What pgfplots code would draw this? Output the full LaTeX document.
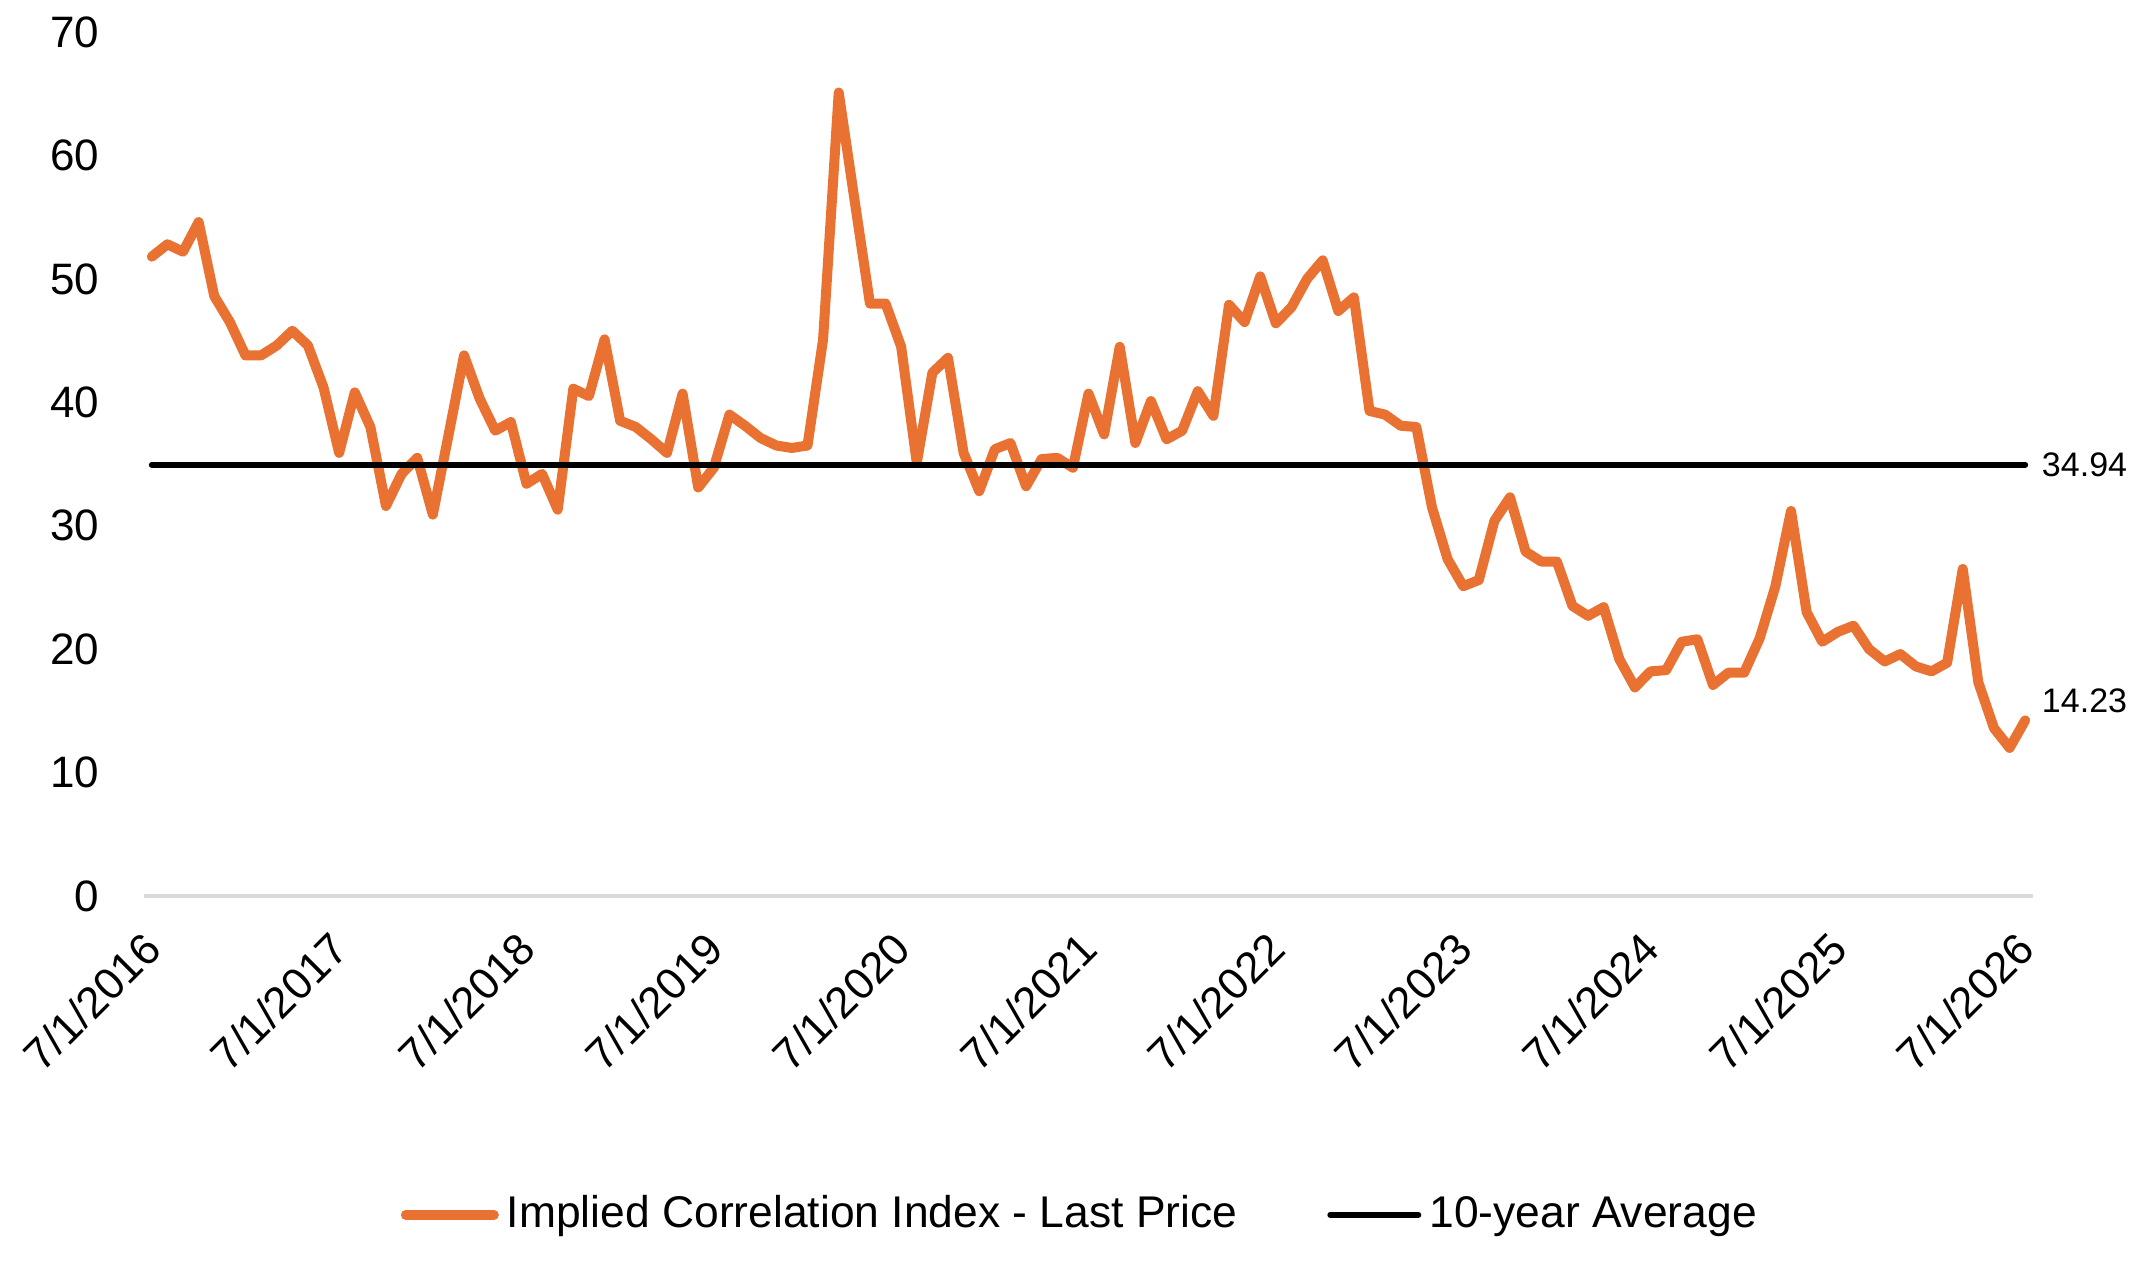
\documentclass[border=0pt]{standalone}
\usepackage{fontspec}
\setmainfont{Liberation Sans}
\usepackage{pgfplots}
\pgfplotsset{compat=1.18}
\usepackage{pgfplotstable}
\definecolor{corrorange}{HTML}{E97132}
\definecolor{axisgray}{HTML}{D9D9D9}

\pgfplotstableread{
idx val
0 51.8
1 52.8
2 52.2
3 54.6
4 48.6
5 46.5
6 43.8
7 43.8
8 44.6
9 45.8
10 44.6
11 41.2
12 35.9
13 40.8
14 38.0
15 31.6
16 34.2
17 35.5
18 30.9
19 37.3
20 43.8
21 40.3
22 37.7
23 38.4
24 33.4
25 34.2
26 31.3
27 41.1
28 40.5
29 45.1
30 38.5
31 38.0
32 37.0
33 35.9
34 40.7
35 33.1
36 34.7
37 39.0
38 38.1
39 37.1
40 36.5
41 36.3
42 36.5
43 45.1
44 65.1
45 56.5
46 48.0
47 48.0
48 44.5
49 35.1
50 42.4
51 43.6
52 35.9
53 32.8
54 36.2
55 36.7
56 33.2
57 35.4
58 35.5
59 34.7
60 40.7
61 37.4
62 44.5
63 36.7
64 40.1
65 37.0
66 37.7
67 40.9
68 38.9
69 47.9
70 46.5
71 50.2
72 46.4
73 47.7
74 50.0
75 51.5
76 47.4
77 48.5
78 39.3
79 39.0
80 38.1
81 38.0
82 31.5
83 27.3
84 25.1
85 25.6
86 30.4
87 32.3
88 27.9
89 27.1
90 27.1
91 23.5
92 22.7
93 23.4
94 19.2
95 16.9
96 18.2
97 18.3
98 20.6
99 20.8
100 17.1
101 18.1
102 18.1
103 20.9
104 25.1
105 31.2
106 23.0
107 20.6
108 21.4
109 21.9
110 20.0
111 19.0
112 19.6
113 18.6
114 18.2
115 18.9
116 26.5
117 17.3
118 13.6
119 12.0
120 14.23
}\corrdata

\pgfplotstableread{
idx val
0 34.94
120 34.94
}\avgdata

\begin{document}
\begin{tikzpicture}
\path[use as bounding box] (0pt,0pt) rectangle (536.25pt,321.75pt);
\begin{axis}[
  at={(36pt,97.75pt)}, anchor=south west,
  scale only axis,
  width=472.25pt, height=216pt,
  xmin=-0.5, xmax=120.5,
  ymin=0, ymax=70,
  clip=false,
  axis x line*=bottom,
  axis y line*=left,
  x axis line style={draw=axisgray, line width=0.8pt, -},
  y axis line style={draw=none},
  major tick length=0pt,
  xtick={0,12,...,120},
  xticklabels={7/1/2016,7/1/2017,7/1/2018,7/1/2019,7/1/2020,7/1/2021,7/1/2022,7/1/2023,7/1/2024,7/1/2025,7/1/2026},
  ytick={0,10,...,70},
  /pgf/number format/assume math mode=true,
  tick label style={font=\fontsize{11}{13}\selectfont},
  xticklabel style={rotate=45, anchor=north east, inner sep=0pt, xshift=-7.6pt, yshift=-3.8pt},
  yticklabel style={anchor=east, inner sep=0pt, xshift=-11pt},
  legend style={at={(0.497,-0.369)}, anchor=center, draw=none, fill=none,
    legend columns=2, font=\fontsize{11.1}{13}\selectfont,
    /tikz/every even column/.append style={column sep=20.5pt}},
  legend cell align=left,
  legend image code/.code={\draw[#1] (0pt,0pt) -- (22pt,0pt);},
]
\addplot[color=corrorange, line width=2.5pt, line join=round, line cap=round] table[x=idx,y=val] {\corrdata};
\addlegendentry{Implied Correlation Index - Last Price}
\addplot[color=black, line width=1.5pt, line cap=round] table[x=idx,y=val] {\avgdata};
\addlegendentry{10-year Average}
\node[anchor=west, inner sep=0pt, font=\fontsize{8.5}{10}\selectfont] at (axis cs:120,34.94) [xshift=4pt] {34.94};
\node[anchor=west, inner sep=0pt, font=\fontsize{8.5}{10}\selectfont] at (axis cs:120,14.23) [xshift=4pt, yshift=5pt] {14.23};
\end{axis}
\end{tikzpicture}
\end{document}
